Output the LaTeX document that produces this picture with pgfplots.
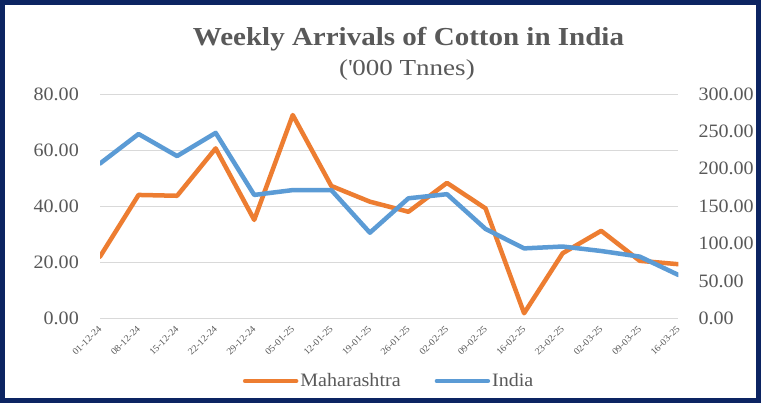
\documentclass[border=0pt]{standalone}
\usepackage{fontspec}
\setmainfont{Liberation Serif}
\newfontfamily\titlefont[FakeStretch=1.12]{Liberation Serif}
\newfontfamily\subfont[FakeStretch=1.18]{Liberation Serif}
\newfontfamily\tickfont[FakeStretch=1.06]{Liberation Serif}
\usepackage{pgfplots}
\usepackage{pgfplotstable}
\pgfplotsset{compat=1.18}
\definecolor{navy}{RGB}{12,36,98}
\definecolor{morange}{RGB}{237,125,49}
\definecolor{iblue}{RGB}{91,155,213}
\definecolor{txt}{RGB}{89,89,89}
\definecolor{gridc}{RGB}{217,217,217}

\pgfplotstableread{
idx mah india
0 22.0 207
1 44.0 246.5
2 43.7 217
3 60.6 248
4 35.1 165
5 72.5 171.5
6 47.2 171.5
7 41.6 114.5
8 38.0 160.5
9 48.3 166
10 39.2 119.5
11 1.8 93.5
12 23.2 96
13 31.2 90
14 20.5 82.5
15 19.3 58
}\data

\pgfplotsset{
  common/.style={
    at={(100bp,84.7bp)}, anchor=south west, scale only axis,
    width=578.3bp, height=224.3bp,
    xmin=0, xmax=15,
    axis line style={draw=none},
    major tick length=0pt,
    /pgf/number format/assume math mode=true,
  },
}

\begin{document}
\begin{tikzpicture}[x=1bp,y=1bp]
\useasboundingbox (0,0) rectangle (761,403);
\fill[white] (0,0) rectangle (761,403);
\begin{axis}[
  common,
  ymin=0, ymax=80, ytick={0,20,...,80},
  ymajorgrids, grid style={gridc, line width=1bp},
  xtick={0,...,15},
  xticklabels={01-12-24,08-12-24,15-12-24,22-12-24,29-12-24,05-01-25,12-01-25,19-01-25,26-01-25,02-02-25,09-02-25,16-02-25,23-02-25,02-03-25,09-03-25,16-03-25},
  xticklabel style={rotate=45, anchor=east, inner sep=0pt, font=\tickfont\fontsize{9.5}{10}\selectfont, text=txt},
  xticklabel shift=9bp,
  yticklabel style={anchor=east, inner sep=0pt, font=\tickfont\fontsize{19}{20}\selectfont, text=txt, /pgf/number format/fixed, /pgf/number format/fixed zerofill, /pgf/number format/precision=2},
  yticklabel shift=21bp,
  legend style={at={(0.5,-0.2795)}, anchor=center, draw=none, fill=none, legend columns=2,
    font=\tickfont\fontsize{19}{20}\selectfont, text=txt, inner sep=0pt,
    /tikz/every even column/.append style={column sep=32bp}},
  legend image code/.code={\draw[#1] (0bp,0bp) -- (51bp,0bp);},
]
\addplot[morange, line width=4.5bp, line cap=round, line join=round] table[x=idx,y=mah]{\data};
\addlegendentry{Maharashtra}
\addlegendimage{iblue, line width=4.5bp, line cap=round}
\addlegendentry{India}
\end{axis}
\begin{axis}[
  common,
  ymin=0, ymax=300, ytick={0,50,...,300},
  hide x axis,
  axis y line*=right,
  yticklabel pos=right,
  yticklabel style={anchor=west, inner sep=0pt, font=\tickfont\fontsize{19}{20}\selectfont, text=txt, /pgf/number format/fixed, /pgf/number format/fixed zerofill, /pgf/number format/precision=2},
  yticklabel shift=20bp,
]
\addplot[iblue, line width=4.5bp, line cap=round, line join=round] table[x=idx,y=india]{\data};
\end{axis}
\node[anchor=base, font=\titlefont\bfseries\fontsize{26}{28}\selectfont, text=txt] at (408.5,358) {Weekly Arrivals of Cotton in India};
\node[anchor=base, font=\subfont\fontsize{23}{25}\selectfont, text=txt] at (407,328) {(\textquotesingle000 Tnnes)};
\draw[navy, line width=5bp] (2.5,2.5) rectangle (758.5,400.5);
\end{tikzpicture}
\end{document}
